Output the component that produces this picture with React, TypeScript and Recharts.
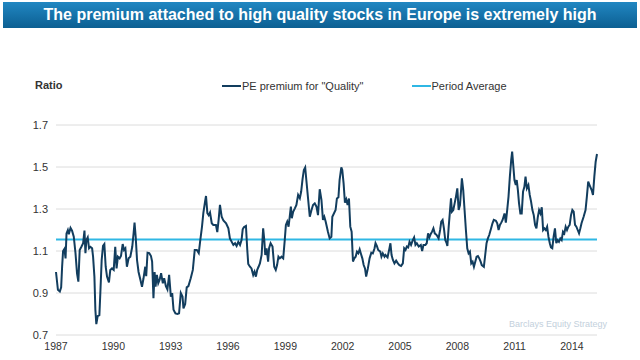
import { LineChart, Line, XAxis, YAxis, CartesianGrid, ReferenceLine, Legend } from 'recharts';

// decimal year of each reading (roughly monthly)
const years = [
    // 1987 - 1996
    1987.00, 1987.10, 1987.20, 1987.27, 1987.32, 1987.37, 1987.44, 1987.50, 1987.55, 1987.62,
    1987.67, 1987.76, 1987.84, 1987.93, 1988.02, 1988.10, 1988.17, 1988.24, 1988.33, 1988.42,
    1988.49, 1988.54, 1988.59, 1988.66, 1988.73, 1988.80, 1988.89, 1988.94, 1989.01, 1989.06,
    1989.11, 1989.18, 1989.27, 1989.32, 1989.39, 1989.46, 1989.53, 1989.60, 1989.67, 1989.77,
    1989.84, 1989.93, 1990.02, 1990.10, 1990.17, 1990.24, 1990.33, 1990.40, 1990.49, 1990.56,
    1990.63, 1990.71, 1990.80, 1990.89, 1990.99, 1991.06, 1991.11, 1991.17, 1991.24, 1991.32,
    1991.41, 1991.50, 1991.58, 1991.67, 1991.72, 1991.79, 1991.88, 1991.97, 1992.03, 1992.10,
    1992.16, 1992.21, 1992.28, 1992.35, 1992.42, 1992.50, 1992.59, 1992.66, 1992.75, 1992.83,
    1992.92, 1993.01, 1993.08, 1993.15, 1993.25, 1993.36, 1993.44, 1993.53, 1993.62, 1993.67,
    1993.76, 1993.84, 1993.93, 1994.05, 1994.16, 1994.26, 1994.37, 1994.47, 1994.54, 1994.64,
    1994.71, 1994.80, 1994.85, 1994.92, 1994.99, 1995.06, 1995.15, 1995.23, 1995.37, 1995.44,
    1995.51, 1995.58, 1995.67, 1995.76, 1995.90, 1996.02,
    // 1996 - 2000
    1996.10, 1996.28, 1996.37, 1996.45, 1996.54, 1996.63, 1996.71, 1996.77, 1996.83, 1996.94,
    1997.01, 1997.06, 1997.15, 1997.23, 1997.32, 1997.39, 1997.46, 1997.53, 1997.60, 1997.67,
    1997.76, 1997.84, 1997.90, 1997.95, 1998.02, 1998.10, 1998.15, 1998.23, 1998.33, 1998.42,
    1998.50, 1998.57, 1998.64, 1998.71, 1998.80, 1998.89, 1998.97, 1999.03, 1999.10, 1999.17,
    1999.23, 1999.29, 1999.34, 1999.41, 1999.50, 1999.58, 1999.67, 1999.76, 1999.83, 1999.90,
    1999.97, 2000.04, 2000.10, 2000.19, 2000.28, 2000.37, 2000.45, 2000.54, 2000.63, 2000.71,
    // 2000 - 2005
    2000.80, 2000.89, 2000.97, 2001.04, 2001.11, 2001.23, 2001.32, 2001.41, 2001.46, 2001.53,
    2001.63, 2001.70, 2001.78, 2001.84, 2001.93, 2001.98, 2002.05, 2002.12, 2002.19, 2002.26,
    2002.33, 2002.40, 2002.47, 2002.54, 2002.61, 2002.68, 2002.75, 2002.82, 2002.89, 2002.96,
    2003.03, 2003.10, 2003.17, 2003.23, 2003.32, 2003.41, 2003.50, 2003.58, 2003.67, 2003.72,
    2003.79, 2003.86, 2003.97, 2004.03, 2004.10, 2004.19, 2004.24, 2004.35, 2004.45, 2004.50,
    2004.56, 2004.63, 2004.71, 2004.80, 2004.89, 2004.97, 2005.06, 2005.15, 2005.22, 2005.29,
    2005.36, 2005.43,
    // 2005 - 2010
    2005.50, 2005.58, 2005.67, 2005.74, 2005.81, 2005.88, 2005.98, 2006.09, 2006.16, 2006.23,
    2006.33, 2006.40, 2006.47, 2006.54, 2006.61, 2006.68, 2006.75, 2006.82, 2006.92, 2007.02,
    2007.10, 2007.16, 2007.23, 2007.30, 2007.37, 2007.44, 2007.48, 2007.55, 2007.62, 2007.67,
    2007.72, 2007.79, 2007.86, 2007.93, 2008.00, 2008.07, 2008.14, 2008.21, 2008.24, 2008.31,
    2008.38, 2008.45, 2008.52, 2008.59, 2008.66, 2008.73, 2008.80, 2008.87, 2008.94, 2009.01,
    2009.08, 2009.15, 2009.22, 2009.28, 2009.39, 2009.46, 2009.53, 2009.60, 2009.67, 2009.77,
    2009.84, 2009.91, 2010.02, 2010.09, 2010.16, 2010.23, 2010.30, 2010.37,
    // 2010 - 2015
    2010.47, 2010.54, 2010.61, 2010.68, 2010.75, 2010.82, 2010.87, 2010.92, 2010.99, 2011.06,
    2011.11, 2011.17, 2011.23, 2011.30, 2011.37, 2011.44, 2011.51, 2011.57, 2011.64, 2011.72,
    2011.79, 2011.86, 2011.93, 2012.00, 2012.07, 2012.14, 2012.21, 2012.28, 2012.35, 2012.42,
    2012.49, 2012.56, 2012.63, 2012.70, 2012.77, 2012.84, 2012.90, 2012.97, 2013.04, 2013.11,
    2013.18, 2013.25, 2013.32, 2013.39, 2013.46, 2013.53, 2013.60, 2013.67, 2013.74, 2013.81,
    2013.88, 2013.95, 2014.02, 2014.09, 2014.16, 2014.23, 2014.30, 2014.37, 2014.44, 2014.50,
    2014.61, 2014.71, 2014.78, 2014.85, 2014.92, 2015.03, 2015.10, 2015.17, 2015.24, 2015.31,
];

// PE premium for "Quality" (ratio)
const pePremium = [
    // 1987 - 1996
    1.00, 0.915, 0.907, 0.927, 1.025, 1.10, 1.11, 1.065, 1.184, 1.20,
    1.18, 1.21, 1.197, 1.168, 1.09, 0.994, 0.954, 1.105, 1.12, 1.137,
    1.197, 1.09, 1.152, 1.165, 1.113, 1.12, 1.113, 1.073, 0.978, 0.82,
    0.752, 0.79, 0.795, 0.90, 1.057, 1.124, 1.133, 1.025, 0.978, 0.95,
    1.01, 1.017, 1.01, 1.12, 1.017, 1.073, 1.065, 1.076, 1.133, 1.105,
    1.113, 1.025, 1.065, 1.073, 1.12, 1.184, 1.235, 1.168, 1.057, 1.00,
    0.965, 0.93, 0.97, 1.025, 0.98, 1.092, 1.09, 1.076, 1.05, 0.875,
    1.00, 0.93, 0.986, 0.946, 0.962, 0.994, 0.946, 0.97, 0.933, 0.917,
    0.986, 0.883, 0.90, 0.82, 0.803, 0.80, 0.803, 0.90, 0.883, 0.827,
    0.848, 0.927, 0.933, 0.97, 1.01, 1.105, 1.105, 1.09, 1.144, 1.216,
    1.28, 1.335, 1.362, 1.28, 1.27, 1.283, 1.232, 1.224, 1.224, 1.19,
    1.248, 1.32, 1.263, 1.245, 1.232, 1.208,
    // 1996 - 2000
    1.16, 1.129, 1.137, 1.124, 1.144, 1.129, 1.152, 1.203, 1.213, 1.219,
    1.105, 1.038, 1.025, 1.017, 0.986, 1.002, 0.978, 1.01, 1.025, 1.041,
    1.081, 1.208, 1.152, 1.081, 1.113, 1.049, 1.113, 1.137, 1.121, 1.025,
    1.01, 1.033, 1.073, 1.065, 1.073, 1.065, 1.152, 1.224, 1.24, 1.216,
    1.263, 1.311, 1.256, 1.287, 1.303, 1.319, 1.367, 1.351, 1.383, 1.441,
    1.486, 1.498, 1.438, 1.35, 1.263, 1.295, 1.319, 1.327, 1.311, 1.271,
    // 2000 - 2005
    1.394, 1.343, 1.248, 1.263, 1.24, 1.192, 1.16, 1.168, 1.263, 1.276,
    1.295, 1.35, 1.356, 1.438, 1.498, 1.486, 1.422, 1.33, 1.346, 1.319,
    1.35, 1.216, 1.192, 1.05, 1.065, 1.073, 1.097, 1.089, 1.108, 1.086,
    1.065, 1.033, 1.017, 0.978, 1.017, 1.065, 1.092, 1.089, 1.113, 1.137,
    1.124, 1.105, 1.097, 1.073, 1.089, 1.073, 1.081, 1.07, 1.113, 1.137,
    1.081, 1.057, 1.041, 1.054, 1.041, 1.033, 1.029, 1.041, 1.113, 1.105,
    1.121, 1.117,
    // 2005 - 2010
    1.144, 1.129, 1.152, 1.165, 1.129, 1.137, 1.121, 1.129, 1.10, 1.129,
    1.129, 1.137, 1.184, 1.165, 1.181, 1.192, 1.208, 1.184, 1.176, 1.16,
    1.2, 1.24, 1.248, 1.208, 1.152, 1.137, 1.124, 1.216, 1.295, 1.351,
    1.287, 1.295, 1.327, 1.359, 1.398, 1.295, 1.319, 1.406, 1.446, 1.39,
    1.295, 1.2, 1.113, 1.089, 1.097, 1.041, 1.049, 1.025, 1.049, 1.073,
    1.076, 1.065, 1.049, 1.033, 1.025, 1.081, 1.137, 1.16, 1.176, 1.208,
    1.232, 1.248, 1.244, 1.232, 1.2, 1.224, 1.235, 1.248,
    // 2010 - 2015
    1.279, 1.235, 1.295, 1.359, 1.454, 1.533, 1.573, 1.517, 1.438, 1.414,
    1.438, 1.39, 1.327, 1.279, 1.279, 1.383, 1.406, 1.454, 1.398, 1.414,
    1.367, 1.335, 1.295, 1.271, 1.224, 1.208, 1.26, 1.295, 1.279, 1.308,
    1.2, 1.208, 1.2, 1.216, 1.168, 1.137, 1.117, 1.113, 1.168, 1.208,
    1.137, 1.152, 1.144, 1.16, 1.152, 1.192, 1.184, 1.216, 1.2, 1.216,
    1.224, 1.271, 1.295, 1.287, 1.224, 1.216, 1.2, 1.184, 1.208, 1.232,
    1.263, 1.295, 1.359, 1.43, 1.414, 1.39, 1.367, 1.454, 1.525, 1.562,
];

const PERIOD_AVERAGE = 1.155;

const xTicks = [1987, 1990, 1993, 1996, 1999, 2002, 2005, 2008, 2011, 2014];
const yTicks = [0.7, 0.9, 1.1, 1.3, 1.5, 1.7];

const NAVY = '#123d5e';
const CYAN = '#2fb7e4';
const FONT = '"Liberation Sans", Arial, sans-serif';

const legendItems = [
    { label: 'PE premium for "Quality"', color: NAVY },
    { label: 'Period Average', color: CYAN },
];

const data = years.map((year, i) => ({ year, pe: pePremium[i] }));

const renderLegend = () => (
    <div style={{ display: 'flex', alignItems: 'center', fontFamily: FONT, fontSize: 11, color: '#333' }}>
        {legendItems.map((item, i) => (
            <div key={item.label} style={{ display: 'flex', alignItems: 'center', marginLeft: i === 0 ? 0 : 48 }}>
                <span style={{ display: 'inline-block', width: 19, height: 2, background: item.color, marginRight: 1 }} />
                <span>{item.label}</span>
            </div>
        ))}
    </div>
);

export default function App() {
    return (
        <div style={{ position: 'relative', width: 640, height: 360, background: '#fff', fontFamily: FONT }}>
            <style>{'body { margin: 0; }'}</style>

            {/* title banner */}
            <div
                style={{
                    position: 'absolute',
                    left: 3,
                    top: 2,
                    width: 634,
                    height: 26,
                    background: 'linear-gradient(#2187c2, #0c5f92)',
                    color: '#fff',
                    fontWeight: 'bold',
                    fontSize: 16,
                    lineHeight: '26px',
                    textAlign: 'center',
                }}
            >
                The premium attached to high quality stocks in Europe is extremely high
            </div>

            <div style={{ position: 'absolute', left: 35, top: 79, fontSize: 11, fontWeight: 'bold', color: '#333' }}>
                Ratio
            </div>

            <LineChart width={640} height={360} data={data} margin={{ top: 125, right: 43, bottom: 5, left: 16 }}>
                <CartesianGrid vertical={false} stroke="#dcdcdc" />
                <XAxis
                    dataKey="year"
                    type="number"
                    domain={[1987, 2015.31]}
                    ticks={xTicks}
                    axisLine={false}
                    tickLine={false}
                    height={20}
                    tick={{ fontSize: 10.5, fill: '#333', fontFamily: FONT }}
                />
                <YAxis
                    domain={[0.7, 1.7]}
                    ticks={yTicks}
                    axisLine={false}
                    tickLine={false}
                    width={40}
                    tickFormatter={(v: number) => v.toFixed(1)}
                    tick={{ fontSize: 11, fill: '#333', fontFamily: FONT }}
                />
                <Legend
                    layout="horizontal"
                    verticalAlign="middle"
                    align="center"
                    content={renderLegend}
                    wrapperStyle={{ top: 80, left: 222, width: 'auto' }}
                />
                <ReferenceLine y={PERIOD_AVERAGE} stroke={CYAN} strokeWidth={2} />
                <Line
                    type="linear"
                    dataKey="pe"
                    stroke={NAVY}
                    strokeWidth={2}
                    dot={false}
                    isAnimationActive={false}
                />
            </LineChart>

            <div style={{ position: 'absolute', left: 509, top: 319, fontSize: 9, color: '#c3d0dc' }}>
                Barclays Equity Strategy
            </div>
        </div>
    );
}
